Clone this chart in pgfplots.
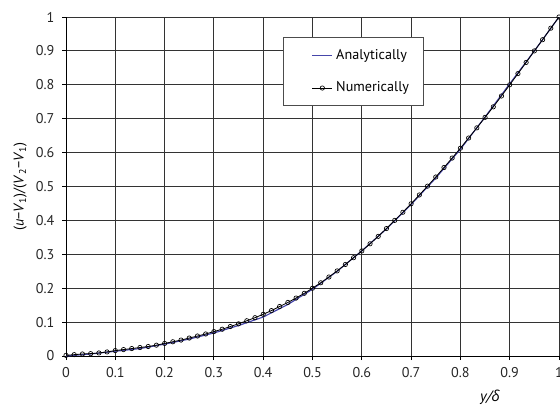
\documentclass[border=0pt]{standalone}
\usepackage{fontspec}
\setmainfont{PT Sans}
\newfontfamily\greekit{Open Sans}[ItalicFont={* Italic}]
\usepackage{pgfplots}
\pgfplotsset{compat=1.18}
\definecolor{anblue}{RGB}{70,70,170}
\begin{document}
\begin{tikzpicture}
\begin{axis}[
  name=ax,
  scale only axis,
  width=295.8pt, height=203.4pt,
  xmin=0, xmax=1, ymin=0, ymax=1,
  xtick={0,0.1,...,1.0001}, ytick={0,0.1,...,1.0001},
  xticklabels={0,0.1,0.2,0.3,0.4,0.5,0.6,0.7,0.8,0.9,1},
  yticklabels={0,0.1,0.2,0.3,0.4,0.5,0.6,0.7,0.8,0.9,1},
  tick align=outside, tick pos=left,
  major tick length=2.4pt,
  tick style={black, line width=0.6pt},
  grid=major,
  major grid style={draw=black!80, line width=0.6pt},
  axis line style={black, line width=0.6pt},
  axis x line*=bottom, axis y line*=left,
  ticklabel style={font=\fontsize{8.5}{10}\selectfont, text=black!85},
  xticklabel style={yshift=-1pt},
  yticklabel style={xshift=-1pt},
  xlabel={\itshape y/{\greekit\itshape δ}},
  xlabel style={at={(axis description cs:0.86,-0.121)}, anchor=center, font=\fontsize{9}{10}\selectfont},
  ylabel={(\textit{u}−\textit{V}\textsubscript{1})/(\textit{V}\textsubscript{2}−\textit{V}\textsubscript{1})},
  ylabel style={at={(axis description cs:-0.093,0.5)}, anchor=center, font=\fontsize{8.5}{10}\selectfont},
  legend style={at={(axis description cs:0.440,0.941)}, anchor=north west,
    draw=black!70, fill=white, line width=0.6pt, font=\fontsize{8.5}{10}\selectfont,
    inner xsep=6.5pt, inner ysep=5pt, row sep=8pt, cells={anchor=west}},
  legend image code/.code={\path (0cm,0cm);
    \draw[#1] (0.37cm,0cm) -- (0.79cm,0cm);
    \draw[#1, only marks] plot coordinates {(0.58cm,0cm)};},
]
\addplot[anblue, line width=0.7pt, mark=none] coordinates {
(0,0) (0.05,0.006) (0.1,0.014) (0.15,0.022) (0.2,0.035) (0.25,0.05) (0.3,0.068)
(0.35,0.09) (0.4,0.115) (0.45,0.152) (0.5,0.197) (0.55,0.25) (0.6,0.31) (0.65,0.375)
(0.7,0.447) (0.75,0.525) (0.8,0.61) (0.85,0.705) (0.9,0.803) (0.95,0.9) (1.0,1.0)};
\addlegendentry{Analytically}
\addplot[black, line width=0.5pt, mark=o, mark size=1.3pt, mark options={solid, fill=white, line width=0.4pt}] coordinates {
(0.0000,0.002) (0.0167,0.004) (0.0333,0.006) (0.0500,0.007) (0.0667,0.009) (0.0833,0.012)
(0.1000,0.016) (0.1167,0.019) (0.1333,0.022) (0.1500,0.025) (0.1667,0.028) (0.1833,0.032)
(0.2000,0.037) (0.2167,0.042) (0.2333,0.047) (0.2500,0.053) (0.2667,0.059) (0.2833,0.065)
(0.3000,0.072) (0.3167,0.079) (0.3333,0.087) (0.3500,0.095) (0.3667,0.104) (0.3833,0.113)
(0.4000,0.123) (0.4167,0.134) (0.4333,0.146) (0.4500,0.158) (0.4667,0.171) (0.4833,0.185)
(0.5000,0.200) (0.5167,0.216) (0.5333,0.233) (0.5500,0.251) (0.5667,0.270) (0.5833,0.290)
(0.6000,0.310) (0.6167,0.331) (0.6333,0.353) (0.6500,0.376) (0.6667,0.400) (0.6833,0.424)
(0.7000,0.449) (0.7167,0.475) (0.7333,0.501) (0.7500,0.528) (0.7667,0.556) (0.7833,0.584)
(0.8000,0.613) (0.8167,0.643) (0.8333,0.673) (0.8500,0.704) (0.8667,0.735) (0.8833,0.767)
(0.9000,0.800) (0.9167,0.833) (0.9333,0.866) (0.9500,0.900) (0.9667,0.933) (0.9833,0.967)
(1.0000,1.000)};
\addlegendentry{Numerically}
\end{axis}
\pgfresetboundingbox
\path[use as bounding box] ([xshift=-39.6pt,yshift=-30.6pt]ax.south west) rectangle ([xshift=0.6pt,yshift=10.2pt]ax.north east);
\end{tikzpicture}
\end{document}
